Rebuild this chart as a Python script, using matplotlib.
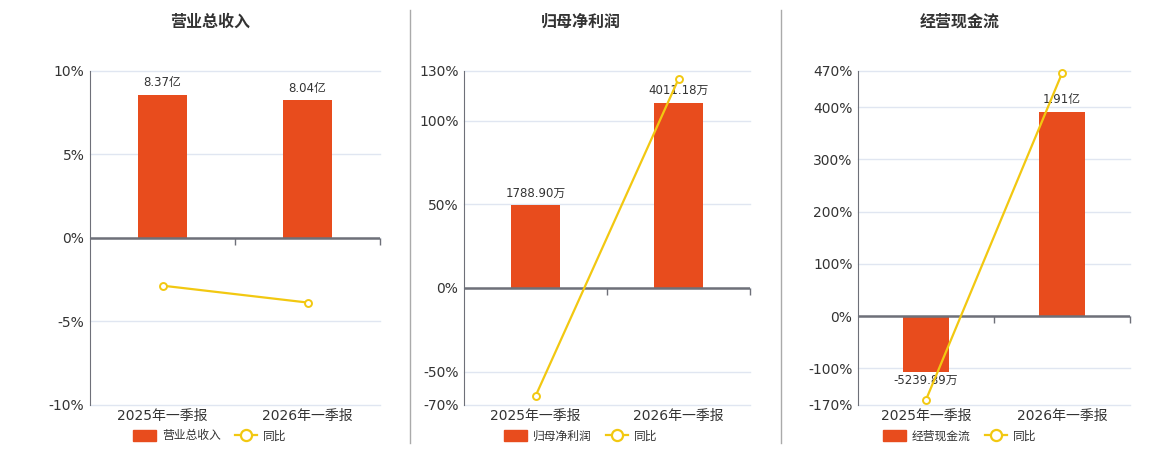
import matplotlib
matplotlib.use('Agg')
import matplotlib.pyplot as plt
from matplotlib.lines import Line2D
from matplotlib.patches import Patch
from matplotlib.markers import TICKDOWN

plt.rcParams['font.family'] = ['DejaVu Sans', 'Noto Sans CJK SC']

# data
periods = ['2025年一季报', '2026年一季报']
titles = ['营业总收入', '归母净利润', '经营现金流']
bar_values = [[8.37, 8.04], [1788.90, 4011.18], [-5239.89, 19100.0]]
bar_labels = [['8.37亿', '8.04亿'], ['1788.90万', '4011.18万'], ['-5239.89万', '1.91亿']]
yoy = [[-2.86, -3.87], [-64.7, 125.0], [-160.0, 465.0]]
y_ticks = [[-10, -5, 0, 5, 10],
           [-70, -50, 0, 50, 100, 130],
           [-170, -100, 0, 100, 200, 300, 400, 470]]

# how many percent-axis units one bar unit takes (bars sit on a hidden axis)
bar_scale = [1.023, 0.02762, 0.0205]

BAR_COLOR = '#E84C1D'
LINE_COLOR = '#F2C811'
TEXT = '#333333'
GRID = '#E0E6F1'
AXIS = '#6E7079'

W, H = 1160, 450
fig = plt.figure(figsize=(W / 100, H / 100), dpi=100)

boxes = [(90, 380), (464, 750), (858, 1130)]
centers = [210, 581, 960]
top_px, bot_px = 70.7, 405

for k in range(3):
    l, r = boxes[k]
    rect = [l / W, 1 - bot_px / H, (r - l) / W, (bot_px - top_px) / H]
    ax = fig.add_axes(rect)
    lo, hi = y_ticks[k][0], y_ticks[k][-1]
    ax.set_ylim(lo, hi)
    ax.set_xlim(-0.5, 1.5)
    ax.set_yticks(y_ticks[k])
    ax.set_yticklabels([f'{t}%' for t in y_ticks[k]])
    ax.yaxis.grid(True, color=GRID, lw=1)
    for gl in ax.get_ygridlines():
        gl.set_clip_on(False)
    ax.set_axisbelow(True)
    for s in ['top', 'right', 'bottom']:
        ax.spines[s].set_visible(False)
    ax.spines['left'].set_color(AXIS)
    ax.tick_params(axis='y', length=0, labelsize=10, labelcolor=TEXT, pad=4)
    ax.set_xticks(range(len(periods)))
    ax.set_xticklabels(periods)
    ax.tick_params(axis='x', length=0, labelsize=10, labelcolor=TEXT, pad=3)

    # bars on a hidden axis, zero aligned with the percent axis
    axb = ax.twinx()
    f = bar_scale[k]
    axb.set_ylim(lo / f, hi / f)
    axb.set_axis_off()
    axb.bar(range(len(periods)), bar_values[k], width=0.34, color=BAR_COLOR)
    for i, v in enumerate(bar_values[k]):
        if v >= 0:
            axb.annotate(bar_labels[k][i], (i, v), xytext=(0, 4), textcoords='offset points',
                         ha='center', va='bottom', fontsize=8.5, color=TEXT)
        else:
            axb.annotate(bar_labels[k][i], (i, v), xytext=(0, -1), textcoords='offset points',
                         ha='center', va='top', fontsize=8.5, color=TEXT)

    # yoy line on top
    axl = ax.twinx()
    axl.set_ylim(lo, hi)
    axl.set_xlim(-0.5, 1.5)
    axl.set_axis_off()
    axl.axhline(0, color=AXIS, lw=1.8)
    axl.plot([0.5, 1.5], [0, 0], ls='none', marker=TICKDOWN, markersize=5,
             markeredgewidth=1, color=AXIS, clip_on=False)
    axl.plot(range(len(periods)), yoy[k], color=LINE_COLOR, lw=1.6, marker='o',
             markersize=5, markerfacecolor='white', markeredgecolor=LINE_COLOR,
             markeredgewidth=1.4, zorder=5, clip_on=False)

    fig.text(centers[k] / W, 1 - 22 / H, titles[k], ha='center', va='center',
             fontsize=11.5, fontweight='bold', color=TEXT)

    handles = [Patch(facecolor=BAR_COLOR, edgecolor=BAR_COLOR),
               Line2D([], [], color=LINE_COLOR, lw=1.6, marker='o', markersize=8,
                      markerfacecolor='white', markeredgewidth=1.6)]
    fig.legend(handles, [titles[k], '同比'], loc='center', ncol=2,
               bbox_to_anchor=(centers[k] / W, 1 - 436 / H), frameon=False,
               fontsize=8.5, labelcolor=TEXT, handlelength=1.9, handleheight=1.0,
               handletextpad=0.5, columnspacing=1.2)

for x in [410, 781]:
    fig.add_artist(Line2D([x / W, x / W], [1 - 443 / H, 1 - 10 / H], color='#AAAAAA', lw=1))

fig.savefig('out.png', dpi=100)
